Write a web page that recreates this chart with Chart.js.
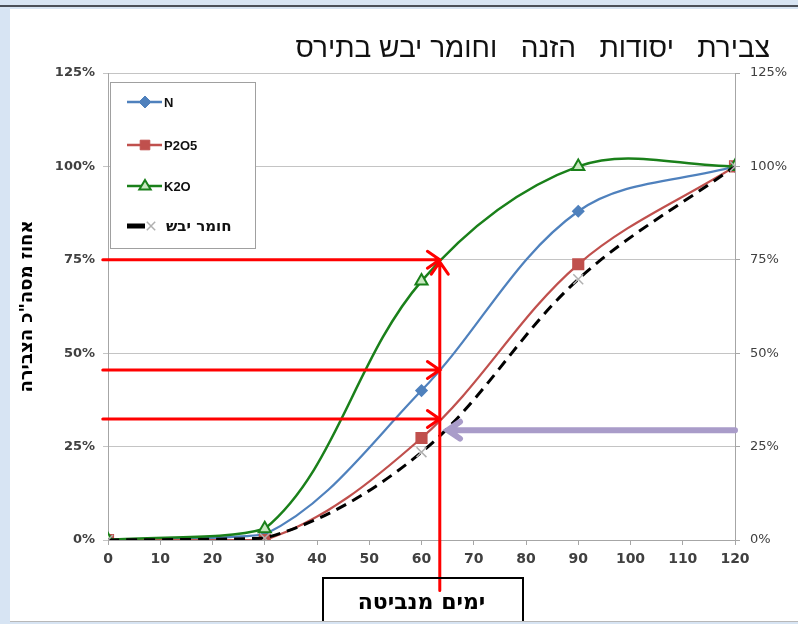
<!DOCTYPE html>
<html lang="he">
<head>
<meta charset="utf-8">
<title>צבירת יסודות הזנה וחומר יבש בתירס</title>
<script src="https://cdn.jsdelivr.net/npm/chart.js@4.4.1/dist/chart.umd.min.js"></script>
<style>
    body { margin: 0; width: 798px; height: 624px; overflow: hidden; background: #d7e4f3; }
    #linha-topo { position: absolute; left: 0; top: 5px; width: 798px; height: 2px; background: #4a4f58; }
    #caixa { position: absolute; left: 10px; top: 9px; width: 788px; height: 612px; background: #fff; border-bottom: 1px solid #b8b8b8; overflow: hidden; }
    #titulo { position: absolute; right: 28px; top: 32px; font: 28px "Liberation Sans"; color: #111; white-space: pre; direction: rtl; }
</style>
</head>
<body>
<div id="linha-topo"></div>
<div id="caixa"><canvas id="grafico" width="788" height="615" dir="rtl"></canvas></div>
<div id="titulo"></div>
<script>
// dias depois da germinação
const dias = [0, 30, 60, 90, 120];
const valoresN = [0, 1.5, 40, 88, 100];
const valoresP2O5 = [0, 0, 27.3, 73.8, 100];
const valoresK2O = [0, 3, 69.3, 100, 100];
const valoresSeco = [0, 0.5, 23.5, 69.8, 100];
const nomesSeries = ['N', 'P2O5', 'K2O', 'חומר יבש'];
const ticksY = [0, 25, 50, 75, 100, 125];

// setas de leitura (valores nas unidades do gráfico)
const setasVermelhasY = [75, 45.5, 32.4];
const setaVermelhaX = [-1, 63.5];
const setaVerticalY = [-13.5, 75];
const setaRoxa = { y: 29.4, de: 120, ate: 65 };

const titulo = 'צבירת   יסודות   הזנה   וחומר יבש בתירס';
document.getElementById('titulo').textContent = titulo;

function pontos(valores) {
    return dias.map((d, i) => ({ x: d, y: valores[i] }));
}

function desenharSeta(ctx, x1, y1, x2, y2, cor, largura, ponta) {
    const ang = Math.atan2(y2 - y1, x2 - x1);
    ctx.save();
    ctx.strokeStyle = cor;
    ctx.lineWidth = largura;
    ctx.lineCap = 'round';
    ctx.beginPath();
    ctx.moveTo(x1, y1);
    ctx.lineTo(x2, y2);
    ctx.moveTo(x2 - ponta * Math.cos(ang - 0.6), y2 - ponta * Math.sin(ang - 0.6));
    ctx.lineTo(x2, y2);
    ctx.lineTo(x2 - ponta * Math.cos(ang + 0.6), y2 - ponta * Math.sin(ang + 0.6));
    ctx.stroke();
    ctx.restore();
}

function desenharMarcador(ctx, tipo, x, y, r, fundo, borda, largura) {
    ctx.save();
    ctx.fillStyle = fundo;
    ctx.strokeStyle = borda;
    ctx.lineWidth = largura;
    ctx.beginPath();
    if (tipo === 'rectRot') {
        ctx.moveTo(x, y - r); ctx.lineTo(x + r, y); ctx.lineTo(x, y + r); ctx.lineTo(x - r, y); ctx.closePath();
        ctx.fill(); ctx.stroke();
    } else if (tipo === 'rect') {
        ctx.rect(x - r * 0.8, y - r * 0.8, r * 1.6, r * 1.6);
        ctx.fill(); ctx.stroke();
    } else if (tipo === 'triangle') {
        ctx.moveTo(x, y - r); ctx.lineTo(x + r * 0.95, y + r * 0.6); ctx.lineTo(x - r * 0.95, y + r * 0.6); ctx.closePath();
        ctx.fill(); ctx.stroke();
    } else {
        ctx.moveTo(x - r * 0.7, y - r * 0.7); ctx.lineTo(x + r * 0.7, y + r * 0.7);
        ctx.moveTo(x + r * 0.7, y - r * 0.7); ctx.lineTo(x - r * 0.7, y + r * 0.7);
        ctx.stroke();
    }
    ctx.restore();
}

const series = [
    { label: nomesSeries[0], data: pontos(valoresN), borderColor: '#4f81bd', borderWidth: 2.25,
      pointStyle: 'rectRot', pointRadius: 5, pointBackgroundColor: '#4f81bd', pointBorderColor: '#4f81bd', order: 4 },
    { label: nomesSeries[1], data: pontos(valoresP2O5), borderColor: '#c0504d', borderWidth: 2.25,
      pointStyle: 'rect', pointRadius: 7, pointBackgroundColor: '#c0504d', pointBorderColor: '#c0504d', order: 3 },
    { label: nomesSeries[2], data: pontos(valoresK2O), borderColor: '#1a801a', borderWidth: 2.5,
      pointStyle: 'triangle', pointRadius: 7, pointBackgroundColor: '#c8e8c0', pointBorderColor: '#1a801a', pointBorderWidth: 2, order: 2 },
    { label: nomesSeries[3], data: pontos(valoresSeco), borderColor: '#000', borderWidth: 3, borderDash: [11, 7],
      pointStyle: 'crossRot', pointRadius: 7, pointBorderColor: '#b0b0b0', pointBorderWidth: 1.5, order: 1 }
];

const extras = {
    id: 'extras',
    afterDatasetsDraw(chart) {
        const ctx = chart.ctx;
        const sx = chart.scales.x;
        const sy = chart.scales.y;

        // setas vermelhas horizontais
        setasVermelhasY.forEach(v => {
            desenharSeta(ctx, sx.getPixelForValue(setaVermelhaX[0]), sy.getPixelForValue(v),
                sx.getPixelForValue(setaVermelhaX[1]), sy.getPixelForValue(v), '#ff0000', 3, 15);
        });
        // seta vermelha vertical
        const xv = sx.getPixelForValue(setaVermelhaX[1]);
        desenharSeta(ctx, xv, sy.getPixelForValue(setaVerticalY[0]), xv, sy.getPixelForValue(setaVerticalY[1]) + 2,
            '#ff0000', 3, 15);
        // seta roxa
        desenharSeta(ctx, sx.getPixelForValue(setaRoxa.de), sy.getPixelForValue(setaRoxa.y),
            sx.getPixelForValue(setaRoxa.ate), sy.getPixelForValue(setaRoxa.y), '#a99cc9', 6, 15);

        // legenda
        ctx.save();
        ctx.fillStyle = '#fff';
        ctx.fillRect(100.5, 73.5, 145, 166);
        ctx.strokeStyle = '#a0a0a0';
        ctx.lineWidth = 1;
        ctx.strokeRect(100.5, 73.5, 145, 166);
        const ys = [93, 136, 177, 217];
        ctx.textBaseline = 'middle';
        ctx.textAlign = 'left';
        series.forEach((s, i) => {
            const y = ys[i];
            ctx.strokeStyle = s.borderColor;
            ctx.lineWidth = i === 3 ? 5 : 2.5;
            ctx.beginPath();
            ctx.moveTo(117, y);
            ctx.lineTo(i === 3 ? 135 : 152, y);
            ctx.stroke();
            const mx = i === 3 ? 141 : 135;
            desenharMarcador(ctx, s.pointStyle, mx, y, 6,
                s.pointBackgroundColor || '#fff', s.pointBorderColor, s.pointBorderWidth || 1);
            ctx.fillStyle = '#111';
            ctx.font = i === 3 ? 'bold 15px "DejaVu Sans"' : 'bold 13px "Liberation Sans"';
            ctx.fillText(s.label, i === 3 ? 156 : 154, y + 1);
        });
        ctx.restore();
    },
    afterDraw(chart) {
        const ctx = chart.ctx;
        ctx.save();
        // moldura do título do eixo x
        ctx.strokeStyle = '#000';
        ctx.lineWidth = 2;
        ctx.strokeRect(313, 569, 200, 60);
        ctx.restore();
    }
};

const ctx = document.getElementById('grafico').getContext('2d');

const grafico = new Chart(ctx, {
    type: 'line',
    data: { datasets: series },
    options: {
        responsive: false,
        animation: false,
        devicePixelRatio: 1,
        layout: { padding: { top: 64, left: 0, right: 0, bottom: 0 } },
        elements: { line: { tension: 0.35, fill: false } },
        plugins: { legend: { display: false }, tooltip: { enabled: false } },
        scales: {
            x: {
                type: 'linear', min: 0, max: 120,
                ticks: { stepSize: 10, color: '#404040', font: { family: 'DejaVu Sans', size: 14, weight: 'bold' }, padding: 6 },
                grid: { drawOnChartArea: false, color: '#a6a6a6', tickLength: 5 },
                border: { color: '#a6a6a6' },
                title: { display: true, text: 'ימים מנביטה', color: '#000',
                    font: { family: 'DejaVu Sans', size: 22, weight: 'bold' }, padding: { top: 0, bottom: 8 } },
                afterFit: s => { s.height = 84; }
            },
            y: {
                position: 'left', min: 0, max: 125,
                afterBuildTicks: s => { s.ticks = ticksY.map(v => ({ value: v })); },
                ticks: { callback: v => v + '%', color: '#404040', font: { family: 'DejaVu Sans', size: 13, weight: 'bold' }, padding: 8 },
                grid: { color: '#c4c4c4', tickLength: 5 },
                border: { color: '#a6a6a6' },
                title: { display: true, text: 'אחוז מסה"כ הצבירה', color: '#000',
                    font: { family: 'DejaVu Sans', size: 18, weight: 'bold' }, padding: { top: 7, bottom: 0 } },
                afterFit: s => { s.width = 98; }
            },
            y2: {
                position: 'right', min: 0, max: 125,
                afterBuildTicks: s => { s.ticks = ticksY.map(v => ({ value: v })); },
                ticks: { callback: v => v + '%', color: '#404040', font: { family: 'DejaVu Sans', size: 13 }, padding: 10 },
                grid: { drawOnChartArea: false, color: '#a6a6a6', tickLength: 5 },
                border: { color: '#a6a6a6' },
                afterFit: s => { s.width = 63; }
            }
        }
    },
    plugins: [extras]
});
</script>
</body>
</html>
